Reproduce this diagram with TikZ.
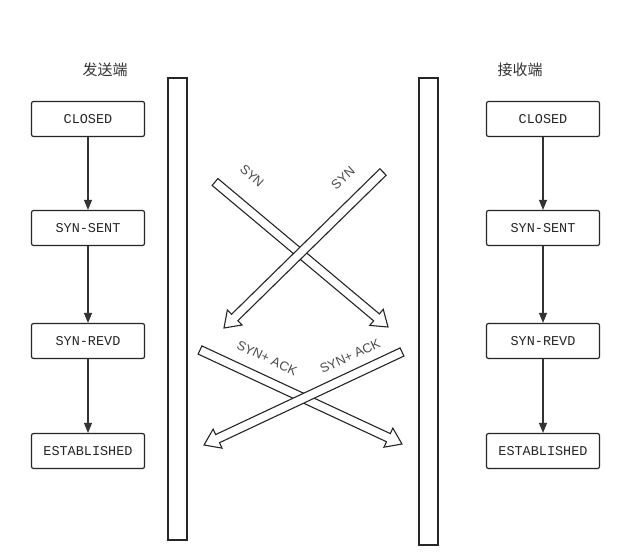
\documentclass[tikz,border=0pt]{standalone}
\usepackage{fontspec}
\setmainfont{Liberation Sans}
\newfontfamily\mono{Liberation Mono}
\newfontfamily\cjk{Noto Sans CJK SC}
\usetikzlibrary{calc,arrows.meta}
\tikzset{
  st/.style={draw=black!85,line width=1.2pt,rounded corners=2pt,minimum width=113pt,minimum height=35pt,font=\mono\fontsize{13.5}{15}\selectfont,text=black!85},
  bar/.style={draw=black!85,line width=1.2pt},
  flow/.style={draw=black!80,line width=1.1pt,-{Triangle[length=10pt,width=8pt]}},
  lab/.style={font=\fontsize{13}{15}\selectfont,text=black!70},
  ttl/.style={font=\cjk\fontsize{15}{18}\selectfont,text=black!80}
}
\newcommand{\hollow}[2]{%
  \coordinate (hh) at ($(#2)!15pt!(#1)$);
  \draw[black!85,line width=1.1pt,line join=miter,fill=white]
    ($(#1)!4.5pt!90:(#2)$) -- ($(hh)!4.5pt!-90:(#1)$) -- ($(hh)!10.5pt!-90:(#1)$) -- (#2)
    -- ($(hh)!10.5pt!90:(#1)$) -- ($(hh)!4.5pt!90:(#1)$) -- ($(#1)!4.5pt!-90:(#2)$) -- cycle;}
\begin{document}
\begin{tikzpicture}[x=1pt,y=-1pt]
\useasboundingbox[fill=white] (0,0) rectangle (640,559);
\node[ttl] (t1) at (105,70) {发送端};
\node[ttl] (t2) at (520,70) {接收端};
\draw[bar] (168,78) rectangle (187,540);
\draw[bar] (419,78) rectangle (438,545);
\foreach \s/\x in {l/88,r/543}{
  \node[st] (\s1) at (\x,119) {CLOSED};
  \node[st] (\s2) at (\x,228) {SYN-SENT};
  \node[st] (\s3) at (\x,341) {SYN-REVD};
  \node[st] (\s4) at (\x,451) {ESTABLISHED};
  \draw[flow] (\s1) -- (\s2);
  \draw[flow] (\s2) -- (\s3);
  \draw[flow] (\s3) -- (\s4);
}
\coordinate (a1) at (215,182); \coordinate (b1) at (388,327);
\coordinate (a2) at (383,172); \coordinate (b2) at (224,328);
\coordinate (a3) at (200,350); \coordinate (b3) at (402,444);
\coordinate (a4) at (402,352); \coordinate (b4) at (204,445);
\hollow{a1}{b1}
\hollow{a2}{b2}
\hollow{a3}{b3}
\hollow{a4}{b4}
\node[lab,rotate=-42] (s1) at (252,176) {SYN};
\node[lab,rotate=42] (s2) at (343,178) {SYN};
\node[lab,rotate=-25] (s3) at (267,358) {SYN+ ACK};
\node[lab,rotate=25] (s4) at (350,356) {SYN+ ACK};
\end{tikzpicture}
\end{document}
